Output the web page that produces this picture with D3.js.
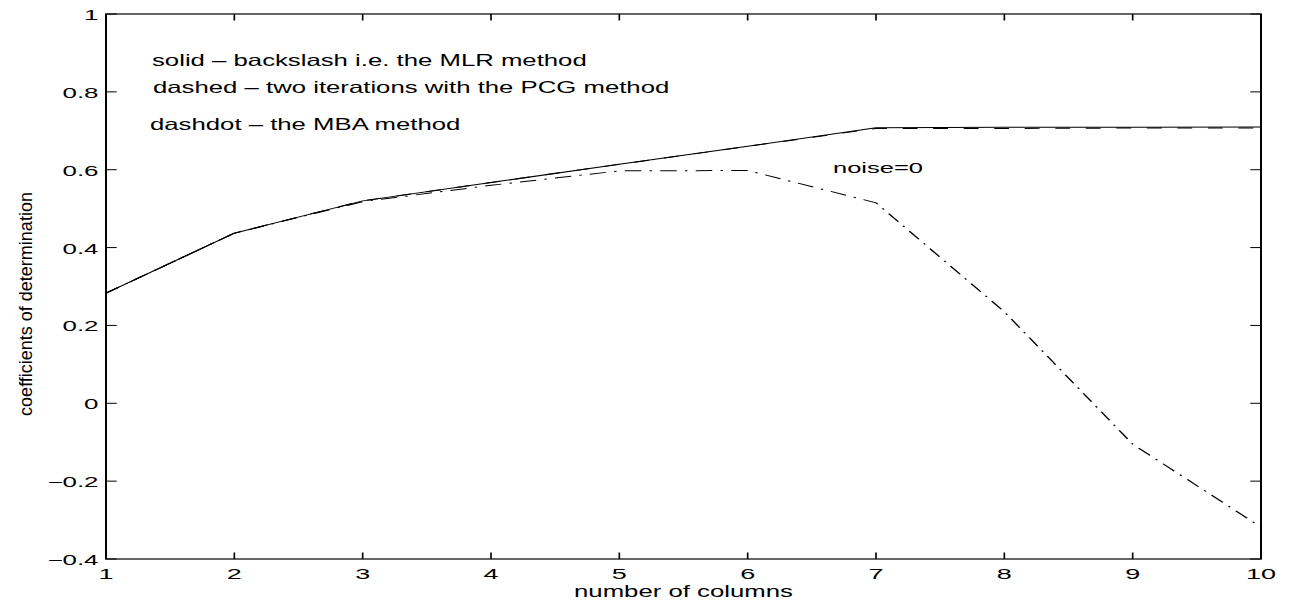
<!DOCTYPE html>
<html>
<head>
<meta charset="utf-8">
<script src="https://cdn.jsdelivr.net/npm/d3@7"></script>
<style>
  html, body { margin: 0; padding: 0; background: #fff; }
  svg { display: block; }
</style>
</head>
<body>
<svg id="chart" width="1290" height="603"></svg>
<script>
// ---- data ----
const columns = [1, 2, 3, 4, 5, 6, 7, 8, 9, 10];
const mlrValues = [0.283, 0.437, 0.520, 0.567, 0.614, 0.660, 0.708, 0.709, 0.709, 0.710];
const pcgValues = [0.283, 0.437, 0.520, 0.567, 0.614, 0.660, 0.706, 0.706, 0.707, 0.707];
const mbaValues = [0.283, 0.437, 0.518, 0.560, 0.597, 0.598, 0.515, 0.235, -0.105, -0.318];
const xTicks = [1, 2, 3, 4, 5, 6, 7, 8, 9, 10];
const yTicks = [-0.4, -0.2, 0, 0.2, 0.4, 0.6, 0.8, 1];
const yTickLabels = ["\u22120.4", "\u22120.2", "0", "0.2", "0.4", "0.6", "0.8", "1"];
const legendLines = [
  "solid \u2013 backslash i.e. the MLR method",
  "dashed \u2013 two iterations with the PCG method",
  "dashdot \u2013 the MBA method"
];
const annotation = "noise=0";
const xLabel = "number of columns";
const yLabel = "coefficients of determination";

// ---- layout ----
const SX = 1.65; // horizontal stretch of the original figure
const plotLeft = 106, plotRight = 1261, plotTop = 14, plotBottom = 559;
const FONT = "'Liberation Sans', Arial, Helvetica, sans-serif";

const svg = d3.select("#chart");
svg.append("rect").attr("width", 1290).attr("height", 603).attr("fill", "#fff");

const x = d3.scaleLinear().domain([1, 10]).range([plotLeft / SX, plotRight / SX]);
const y = d3.scaleLinear().domain([-0.4, 1]).range([plotBottom, plotTop]);

const g = svg.append("g").attr("transform", `scale(${SX},1)`);

// ticks via d3 axes (inward, no labels)
const tickLen = 6.5;
function styleAxis(sel) {
  sel.select(".domain").remove();
  sel.selectAll(".tick line").attr("stroke", "#000").attr("stroke-width", 1);
}
g.append("g").attr("transform", `translate(0,${plotBottom})`)
  .call(d3.axisBottom(x).tickValues(xTicks).tickSize(-tickLen).tickFormat("").offset(0)).call(styleAxis);
g.append("g").attr("transform", `translate(0,${plotTop})`)
  .call(d3.axisTop(x).tickValues(xTicks).tickSize(-tickLen).tickFormat("").offset(0)).call(styleAxis);
g.append("g").attr("transform", `translate(${x(1)},0)`)
  .call(d3.axisLeft(y).tickValues(yTicks).tickSize(-tickLen).tickFormat("").offset(0)).call(styleAxis);
g.append("g").attr("transform", `translate(${x(10)},0)`)
  .call(d3.axisRight(y).tickValues(yTicks).tickSize(-tickLen).tickFormat("").offset(0)).call(styleAxis);

// box
g.append("rect")
  .attr("x", x(1)).attr("y", y(1))
  .attr("width", x(10) - x(1)).attr("height", y(-0.4) - y(1))
  .attr("fill", "none").attr("stroke", "#000").attr("stroke-width", 1.2);

// lines
const line = d3.line().x((d, i) => x(columns[i])).y(d => y(d));
g.append("path").datum(mlrValues).attr("d", line)
  .attr("fill", "none").attr("stroke", "#000").attr("stroke-width", 1);
g.append("path").datum(pcgValues).attr("d", line)
  .attr("fill", "none").attr("stroke", "#000").attr("stroke-width", 1)
  .attr("stroke-dasharray", "9,9.5");
g.append("path").datum(mbaValues).attr("d", line)
  .attr("fill", "none").attr("stroke", "#000").attr("stroke-width", 1)
  .attr("stroke-dasharray", "10,5,1.5,5");

// stretched text helper
function stext(px, py, str, size, sx, anchor) {
  svg.append("g").attr("transform", `translate(${px},${py}) scale(${sx},1)`)
    .append("text")
    .attr("text-anchor", anchor)
    .attr("font-family", FONT)
    .attr("font-size", size)
    .attr("fill", "#000")
    .text(str);
}

// tick labels
xTicks.forEach(t => stext(x(t) * SX, 579, String(t), 15, 1.8, "middle"));
yTicks.forEach((t, i) => stext(98.5, y(t) + 6, yTickLabels[i], 14, 1.85, "end"));

// axis labels
stext((plotLeft + plotRight) / 2, 597, xLabel, 15.8, 1.63, "middle");
svg.append("text")
  .attr("transform", `translate(31.5,304) rotate(-90)`)
  .attr("text-anchor", "middle")
  .attr("font-family", FONT)
  .attr("font-size", 18)
  .text(yLabel);

// legend text & annotation
const legendPos = [[152, 65.7], [153, 93.3], [150, 130]];
legendLines.forEach((s, i) => stext(legendPos[i][0], legendPos[i][1], s, 16.5, 1.56, "start"));
stext(833, 173.3, annotation, 15, 1.7, "start");
</script>
</body>
</html>
